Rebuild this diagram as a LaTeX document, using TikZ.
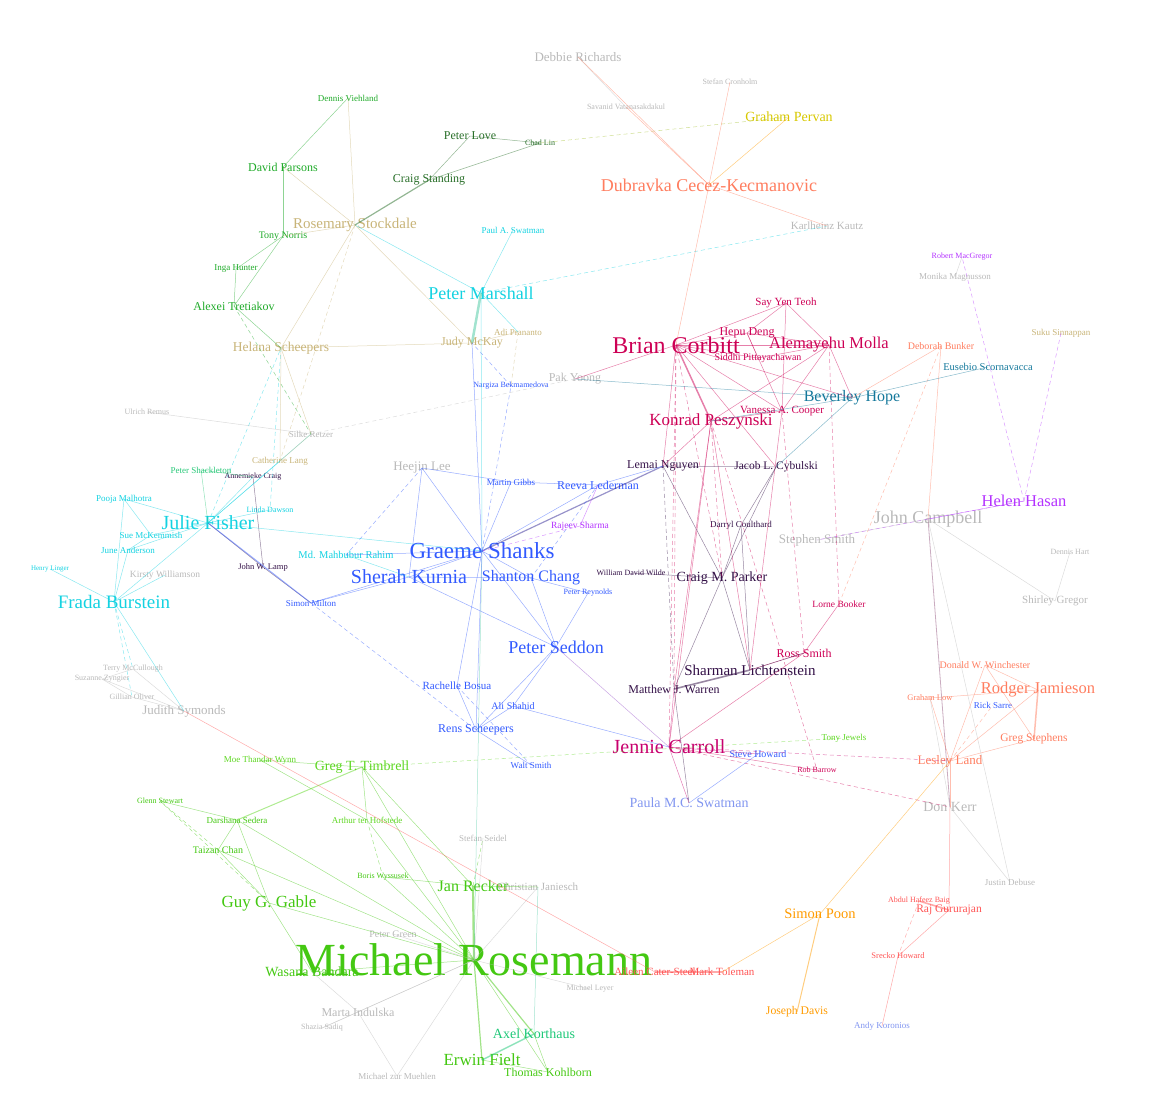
\documentclass[tikz,border=0pt]{standalone}
\usepackage{fontspec}
\setmainfont{Liberation Serif}
\usepackage{tikz}
\definecolor{cRos}{RGB}{68,200,18}
\definecolor{cTim}{RGB}{95,215,35}
\definecolor{cKor}{RGB}{30,200,120}
\definecolor{cGrn}{RGB}{30,170,40}
\definecolor{cDgr}{RGB}{40,110,40}
\definecolor{cGry}{RGB}{185,185,185}
\definecolor{cCya}{RGB}{20,210,225}
\definecolor{cShk}{RGB}{40,200,120}
\definecolor{cTan}{RGB}{200,180,120}
\definecolor{cBlu}{RGB}{50,90,255}
\definecolor{cLbl}{RGB}{130,150,240}
\definecolor{cCri}{RGB}{205,0,85}
\definecolor{cJen}{RGB}{200,0,110}
\definecolor{cDpu}{RGB}{50,15,70}
\definecolor{cDbl}{RGB}{50,40,150}
\definecolor{cSal}{RGB}{255,125,95}
\definecolor{cRed}{RGB}{255,85,85}
\definecolor{cOra}{RGB}{255,155,0}
\definecolor{cTea}{RGB}{20,120,155}
\definecolor{cPur}{RGB}{180,50,255}
\definecolor{cMix}{RGB}{150,80,200}
\definecolor{cYel}{RGB}{215,200,0}
\definecolor{cYgr}{RGB}{160,190,40}
\definecolor{cMar}{RGB}{70,200,160}
\definecolor{cMau}{RGB}{150,90,130}
\tikzset{nm/.style 2 args={text=#1, font=\fontsize{#2}{#2}\selectfont, inner sep=0pt},
  lnk/.style={draw=#1, draw opacity=.5, line width=.5pt},
  dlnk/.style={lnk=#1, dash pattern=on 4pt off 3pt}}

\begin{document}
\begin{tikzpicture}[x=1pt, y=-1pt]
\useasboundingbox (0,0) rectangle (1164,1106);

\node[nm={cRos}{46}] (rose) at (474,960) {Michael Rosemann};
\node[nm={cRos}{16}] (recker) at (473,886) {Jan Recker};
\node[nm={cRos}{17}] (fielt) at (482,1060) {Erwin Fielt};
\node[nm={cRos}{12}] (kohl) at (548,1072) {Thomas Kohlborn};
\node[nm={cKor}{14}] (korth) at (534,1034) {Axel Korthaus};
\node[nm={cRos}{17}] (gable) at (269,903) {Guy G. Gable};
\node[nm={cRos}{14}] (bandara) at (312,972) {Wasana Bandara};
\node[nm={cRos}{9}] (sedera) at (237,820) {Darshana Sedera};
\node[nm={cRos}{10}] (tchan) at (218,850) {Taizan Chan};
\node[nm={cRos}{8}] (gstew) at (160,801) {Glenn Stewart};
\node[nm={cRos}{8}] (wyss) at (383,877) {Boris Wyssusek};
\node[nm={cTim}{14}] (timbrell) at (362,767) {Greg T. Timbrell};
\node[nm={cTim}{9}] (hofst) at (367,820) {Arthur ter Hofstede};
\node[nm={cTim}{9}] (wynn) at (260,760) {Moe Thandar Wynn};
\node[nm={cTim}{9}] (jewels) at (844,738) {Tony Jewels};

\node[nm={cGry}{12}] (indulska) at (358,1012) {Marta Indulska};
\node[nm={cGry}{8}] (sadiq) at (322,1028) {Shazia Sadiq};
\node[nm={cGry}{11}] (janiesch) at (538,887) {Christian Janiesch};
\node[nm={cGry}{9}] (seidel) at (483,838) {Stefan Seidel};
\node[nm={cGry}{9}] (muehlen) at (397,1076) {Michael zur Muehlen};
\node[nm={cGry}{8}] (leyer) at (590,989) {Michael Leyer};
\node[nm={cGry}{10}] (pgreen) at (393,934) {Peter Green};
\node[nm={cGry}{18}] (campbell) at (928,519) {John Campbell};
\node[nm={cGry}{13}] (richards) at (578,57) {Debbie Richards};
\node[nm={cGry}{11}] (kautz) at (827,226) {Karlheinz Kautz};
\node[nm={cGry}{8}] (cronholm) at (730,82) {Stefan Cronholm};
\node[nm={cGry}{8}] (vatan) at (626,107) {Savanid Vatanasakdakul};
\node[nm={cGry}{12}] (yoong) at (575,379) {Pak Yoong};
\node[nm={cGry}{9}] (retzer) at (311,434) {Silke Retzer};
\node[nm={cGry}{8}] (remus) at (147,412) {Ulrich Remus};
\node[nm={cGry}{9.5}] (williamson) at (165,575) {Kirsty Williamson};
\node[nm={cGry}{13}] (symonds) at (184,711) {Judith Symonds};
\node[nm={cGry}{8}] (mccull) at (133,669) {Terry McCullough};
\node[nm={cGry}{8}] (zyngier) at (102,679) {Suzanne Zyngier};
\node[nm={cGry}{8}] (oliver) at (132,697) {Gillian Oliver};
\node[nm={cGry}{13}] (ssmith) at (817,540) {Stephen Smith};
\node[nm={cGry}{14}] (kerr) at (950,807) {Don Kerr};
\node[nm={cGry}{11}] (gregor) at (1055,601) {Shirley Gregor};
\node[nm={cGry}{8}] (hart) at (1070,552) {Dennis Hart};
\node[nm={cGry}{9}] (magnus) at (955,277) {Monika Magnusson};
\node[nm={cGry}{9}] (debuse) at (1010,882) {Justin Debuse};
\node[nm={cGry}{13}] (heejin) at (422,468) {Heejin Lee};

\node[nm={cCya}{20}] (fisher) at (208,523) {Julie Fisher};
\node[nm={cCya}{19}] (burst) at (114,602) {Frada Burstein};
\node[nm={cCya}{9}] (malh) at (124,499) {Pooja Malhotra};
\node[nm={cCya}{9}] (anders) at (128,550) {June Anderson};
\node[nm={cCya}{9}] (mckem) at (151,535) {Sue McKemmish};
\node[nm={cCya}{7}] (linger) at (50,569) {Henry Linger};
\node[nm={cCya}{8}] (dawson) at (270,510) {Linda Dawson};
\node[nm={cCya}{10.5}] (rahim) at (346,555) {Md. Mahbubur Rahim};
\node[nm={cCya}{18}] (marshall) at (481,293) {Peter Marshall};
\node[nm={cCya}{9}] (swatpaul) at (513,230) {Paul A. Swatman};
\node[nm={cShk}{9}] (shackleton) at (201,470) {Peter Shackleton};

\node[nm={cTan}{15}] (stock) at (355,225) {Rosemary Stockdale};
\node[nm={cTan}{13.5}] (scheep) at (281,348) {Helana Scheepers};
\node[nm={cTan}{12}] (mckay) at (472,343) {Judy McKay};
\node[nm={cTan}{9}] (lang) at (280,461) {Catherine Lang};
\node[nm={cTan}{9}] (prananto) at (518,332) {Adi Prananto};
\node[nm={cTan}{9}] (sinnap) at (1061,333) {Suku Sinnappan};

\node[nm={cGrn}{12}] (parsons) at (283,167) {David Parsons};
\node[nm={cGrn}{12}] (tretiak) at (234,306) {Alexei Tretiakov};
\node[nm={cGrn}{10}] (norris) at (283,236) {Tony Norris};
\node[nm={cGrn}{9}] (hunter) at (236,269) {Inga Hunter};
\node[nm={cGrn}{9}] (viehl) at (348,98) {Dennis Viehland};
\node[nm={cDgr}{12}] (standing) at (429,180) {Craig Standing};
\node[nm={cDgr}{12}] (love) at (470,136) {Peter Love};
\node[nm={cDgr}{8}] (chadlin) at (540,143) {Chad Lin};

\node[nm={cBlu}{23}] (shanks) at (482,551) {Graeme Shanks};
\node[nm={cBlu}{20}] (kurnia) at (409,577) {Sherah Kurnia};
\node[nm={cBlu}{16}] (schang) at (531,578) {Shanton Chang};
\node[nm={cBlu}{18}] (seddon) at (556,647) {Peter Seddon};
\node[nm={cBlu}{12}] (lederman) at (598,485) {Reeva Lederman};
\node[nm={cBlu}{9}] (gibbs) at (511,482) {Martin Gibbs};
\node[nm={cBlu}{11}] (bosua) at (457,686) {Rachelle Bosua};
\node[nm={cBlu}{12}] (rens) at (476,730) {Rens Scheepers};
\node[nm={cBlu}{10}] (shahid) at (513,706) {Ali Shahid};
\node[nm={cBlu}{9}] (wsmith) at (531,765) {Walt Smith};
\node[nm={cBlu}{9}] (milton) at (311,603) {Simon Milton};
\node[nm={cBlu}{8}] (reynolds) at (588,593) {Peter Reynolds};
\node[nm={cBlu}{8}] (bekmam) at (511,386) {Nargiza Bekmamedova};
\node[nm={cBlu}{10}] (howard) at (758,754) {Steve Howard};
\node[nm={cBlu}{9}] (sarre) at (993,705) {Rick Sarre};
\node[nm={cLbl}{14}] (pswat) at (689,803) {Paula M.C. Swatman};
\node[nm={cLbl}{9}] (koronios) at (882,1026) {Andy Koronios};

\node[nm={cCri}{24}] (corbitt) at (676,345) {Brian Corbitt};
\node[nm={cCri}{17}] (peszyn) at (711,421) {Konrad Peszynski};
\node[nm={cCri}{16.5}] (molla) at (829,345) {Alemayehu Molla};
\node[nm={cCri}{11}] (teoh) at (786,303) {Say Yen Teoh};
\node[nm={cCri}{12}] (deng) at (747,333) {Hepu Deng};
\node[nm={cCri}{10}] (pittay) at (758,358) {Siddhi Pittayachawan};
\node[nm={cCri}{11}] (cooper) at (782,411) {Vanessa A. Cooper};
\node[nm={cCri}{12}] (rsmith) at (804,653) {Ross Smith};
\node[nm={cCri}{9.5}] (booker) at (839,604) {Lorne Booker};
\node[nm={cCri}{8}] (barrow) at (817,770) {Rob Barrow};
\node[nm={cJen}{20}] (jcarroll) at (669,747) {Jennie Carroll};

\node[nm={cDpu}{14}] (parker) at (722,578) {Craig M. Parker};
\node[nm={cDpu}{15}] (licht) at (750,670) {Sharman Lichtenstein};
\node[nm={cDpu}{12}] (warren) at (674,689) {Matthew J. Warren};
\node[nm={cDpu}{12}] (nguyen) at (663,466) {Lemai Nguyen};
\node[nm={cDpu}{11.5}] (cybul) at (776,467) {Jacob L. Cybulski};
\node[nm={cDpu}{8.5}] (lamp) at (263,567) {John W. Lamp};
\node[nm={cDpu}{8}] (craig) at (253,477) {Annemieke Craig};
\node[nm={cDpu}{9}] (coulth) at (741,525) {Darryl Coulthard};
\node[nm={cDpu}{8}] (wilde) at (631,573) {William David Wilde};

\node[nm={cSal}{18}] (dubravka) at (709,185) {Dubravka Cecez-Kecmanovic};
\node[nm={cSal}{16.5}] (jamieson) at (1038,690) {Rodger Jamieson};
\node[nm={cSal}{13}] (land) at (950,761) {Lesley Land};
\node[nm={cSal}{11.5}] (stephens) at (1034,739) {Greg Stephens};
\node[nm={cSal}{10}] (winch) at (985,665) {Donald W. Winchester};
\node[nm={cSal}{8.5}] (glow) at (930,698) {Graham Low};
\node[nm={cSal}{10}] (bunker) at (941,346) {Deborah Bunker};
\node[nm={cRed}{11.5}] (guru) at (949,910) {Raj Gururajan};
\node[nm={cRed}{8}] (baig) at (919,901) {Abdul Hafeez Baig};
\node[nm={cRed}{8.5}] (srecko) at (898,956) {Srecko Howard};
\node[nm={cRed}{11}] (aileen) at (655,972) {Aileen Cater-Steel};
\node[nm={cRed}{11}] (toleman) at (722,972) {Mark Toleman};
\node[nm={cOra}{14.5}] (poon) at (820,914) {Simon Poon};
\node[nm={cOra}{11.7}] (davis) at (797,1012) {Joseph Davis};

\node[nm={cTea}{16}] (hope) at (852,398) {Beverley Hope};
\node[nm={cTea}{10.5}] (scorn) at (988,367) {Eusebio Scornavacca};
\node[nm={cPur}{16.5}] (hasan) at (1024,501) {Helen Hasan};
\node[nm={cPur}{8}] (macgreg) at (962,257) {Robert MacGregor};
\node[nm={cPur}{9.5}] (sharma) at (580,526) {Rajeev Sharma};
\node[nm={cYel}{14}] (pervan) at (789,117) {Graham Pervan};

\foreach \a/\b in {rose/kohl,rose/gable,rose/bandara,rose/hofst,rose/sedera,rose/tchan,rose/wyss,rose/timbrell,gable/tchan,gable/sedera,gable/bandara,recker/janiesch,fielt/kohl,korth/kohl,sedera/gstew,sedera/tchan,timbrell/hofst,timbrell/wynn,wynn/hofst,recker/wyss,timbrell/recker}
  \draw[lnk=cRos] (\a.center) -- (\b.center);
\foreach \a/\b in {gable/gstew,tchan/gstew,hofst/wyss,recker/seidel}
  \draw[dlnk=cRos] (\a.center) -- (\b.center);
\draw[lnk=cRos, line width=2.2pt] (rose.center) -- (recker.center);
\draw[lnk=cRos, line width=1.2pt] (rose.center) -- (fielt.center);
\draw[lnk=cRos, line width=1.2pt] (rose.center) -- (korth.center);
\draw[lnk=cKor, line width=1.5pt] (korth.center) -- (fielt.center);
\draw[lnk=cTim, line width=1pt] (timbrell.center) -- (sedera.center);
\draw[dlnk=cTim] (timbrell.center) -- (jewels.center);
\draw[lnk=cMar] (shanks.center) -- (rose.center);
\draw[lnk=cMar] (korth.center) -- (janiesch.center);

\foreach \a/\b in {rose/indulska,rose/janiesch,rose/seidel,rose/muehlen,rose/leyer,rose/sadiq,rose/pgreen,indulska/sadiq,indulska/muehlen,bandara/indulska,campbell/ssmith,kerr/debuse,gregor/hart,campbell/gregor,symonds/oliver,symonds/mccull,symonds/zyngier,mccull/zyngier,oliver/zyngier,remus/retzer,richards/vatan,magnus/macgreg,kerr/glow,campbell/debuse}
  \draw[lnk=cGry] (\a.center) -- (\b.center);
\draw[dlnk=cGry] (yoong.center) -- (retzer.center);
\draw[lnk=cMau, line width=.8pt] (campbell.center) -- (kerr.center);

\foreach \a/\b in {corbitt/molla,corbitt/teoh,corbitt/deng,corbitt/pittay,corbitt/cooper,corbitt/nguyen,corbitt/cybul,corbitt/hope,corbitt/yoong,molla/teoh,molla/deng,molla/pittay,molla/cooper,molla/peszyn,molla/hope,deng/pittay,teoh/deng,deng/cooper,teoh/cooper,peszyn/cooper,peszyn/nguyen,peszyn/jcarroll,peszyn/licht,rsmith/booker,rsmith/licht,rsmith/jcarroll,jcarroll/barrow,peszyn/warren,cooper/licht}
  \draw[lnk=cCri] (\a.center) -- (\b.center);
\foreach \a/\b in {corbitt/parker,molla/booker,corbitt/jcarroll,peszyn/parker,cooper/rsmith,jcarroll/kerr,peszyn/barrow,corbitt/warren}
  \draw[dlnk=cCri] (\a.center) -- (\b.center);
\draw[lnk=cCri, line width=1.5pt] (corbitt.center) -- (peszyn.center);
\foreach \a/\b in {jcarroll/howard,jcarroll/pswat,jcarroll/warren}
  \draw[lnk=cJen] (\a.center) -- (\b.center);
\draw[dlnk=cJen] (jcarroll.center) -- (land.center);

\foreach \a/\b in {parker/nguyen,parker/cybul,parker/licht,parker/coulth,parker/warren,licht/rsmith,nguyen/cybul,cybul/coulth,lamp/fisher,lamp/milton,wilde/parker,warren/pswat,coulth/licht,lamp/craig}
  \draw[lnk=cDpu] (\a.center) -- (\b.center);
\draw[dlnk=cDpu] (nguyen.center) -- (warren.center);
\draw[lnk=cDpu, line width=1.6pt] (licht.center) -- (warren.center);
\draw[lnk=cDbl, line width=1.2pt] (nguyen.center) -- (shanks.center);

\foreach \a/\b in {shanks/kurnia,shanks/schang,shanks/seddon,shanks/lederman,shanks/heejin,shanks/gibbs,shanks/milton,shanks/rahim,shanks/bosua,shanks/rens,shanks/mckay,kurnia/seddon,kurnia/schang,kurnia/milton,kurnia/heejin,seddon/schang,seddon/reynolds,seddon/rens,seddon/shahid,shahid/jcarroll,rens/bosua,rens/shahid,rens/wsmith,lederman/gibbs,heejin/gibbs,schang/reynolds,lederman/nguyen,howard/pswat}
  \draw[lnk=cBlu] (\a.center) -- (\b.center);
\foreach \a/\b in {shanks/bekmam,bekmam/mckay,bosua/wsmith,heejin/rahim,schang/lederman,milton/rens}
  \draw[dlnk=cBlu] (\a.center) -- (\b.center);
\draw[lnk=cBlu, line width=1pt] (milton.center) -- (fisher.center);
\draw[lnk=cMix] (seddon.center) -- (jcarroll.center);
\draw[lnk=cPur] (sharma.center) -- (lederman.center);
\draw[dlnk=cPur] (sharma.center) -- (shanks.center);

\foreach \a/\b in {fisher/burst,fisher/malh,fisher/anders,fisher/mckem,fisher/craig,fisher/dawson,fisher/shanks,burst/linger,burst/williamson,burst/symonds,burst/anders,burst/malh,malh/mckem,anders/mckem,marshall/swatpaul,marshall/stock,marshall/shanks,marshall/prananto,rahim/kurnia,fisher/lang,fisher/retzer}
  \draw[lnk=cCya] (\a.center) -- (\b.center);
\foreach \a/\b in {fisher/scheep,burst/mccull,burst/oliver,marshall/kautz,scheep/dawson}
  \draw[dlnk=cCya] (\a.center) -- (\b.center);
\draw[lnk=cMar, line width=2.5pt] (marshall.center) -- (mckay.center);
\draw[lnk=cShk] (fisher.center) -- (shackleton.center);
\draw[lnk=cShk] (shackleton.center) -- (craig.center);

\foreach \a/\b in {stock/parsons,stock/norris,stock/scheep,stock/mckay,mckay/prananto,mckay/scheep,scheep/retzer,scheep/lang,lang/retzer,stock/viehl}
  \draw[lnk=cTan] (\a.center) -- (\b.center);
\foreach \a/\b in {prananto/bekmam,stock/lang}
  \draw[dlnk=cTan] (\a.center) -- (\b.center);
\foreach \a/\b in {parsons/viehl,parsons/norris,norris/hunter,hunter/tretiak,tretiak/scheep,norris/tretiak}
  \draw[lnk=cGrn] (\a.center) -- (\b.center);
\draw[dlnk=cGrn] (tretiak.center) -- (retzer.center);
\foreach \a/\b in {standing/love,standing/chadlin,love/chadlin}
  \draw[lnk=cDgr] (\a.center) -- (\b.center);
\draw[lnk=cDgr, line width=1.2pt] (standing.center) -- (stock.center);
\draw[dlnk=cYgr] (chadlin.center) -- (pervan.center);

\foreach \a/\b in {dubravka/kautz,dubravka/richards,dubravka/vatan,dubravka/corbitt,dubravka/cronholm,jamieson/land,jamieson/winch,jamieson/glow,land/winch,land/stephens,land/glow,land/kerr,winch/stephens,bunker/hope,bunker/campbell}
  \draw[lnk=cSal] (\a.center) -- (\b.center);
\foreach \a/\b in {bunker/booker,land/sarre}
  \draw[dlnk=cSal] (\a.center) -- (\b.center);
\draw[lnk=cSal, line width=1.5pt] (jamieson.center) -- (stephens.center);
\foreach \a/\b in {dubravka/pervan,land/poon,toleman/poon}
  \draw[lnk=cOra] (\a.center) -- (\b.center);
\draw[lnk=cOra, line width=1pt] (poon.center) -- (davis.center);

\foreach \a/\b in {guru/srecko,guru/kerr,srecko/koronios,symonds/aileen}
  \draw[lnk=cRed] (\a.center) -- (\b.center);
\draw[dlnk=cRed] (baig.center) -- (srecko.center);
\draw[lnk=cRed, line width=1.6pt] (guru.center) -- (baig.center);
\draw[lnk=cRed, line width=2pt] (aileen.center) -- (toleman.center);

\foreach \a/\b in {hope/scorn,hope/yoong,hope/peszyn,hope/cybul}
  \draw[lnk=cTea] (\a.center) -- (\b.center);
\draw[lnk=cPur] (hasan.center) -- (campbell.center);
\foreach \a/\b in {hasan/sinnap,hasan/macgreg,hasan/ssmith}
  \draw[dlnk=cPur] (\a.center) -- (\b.center);
\end{tikzpicture}
\end{document}
